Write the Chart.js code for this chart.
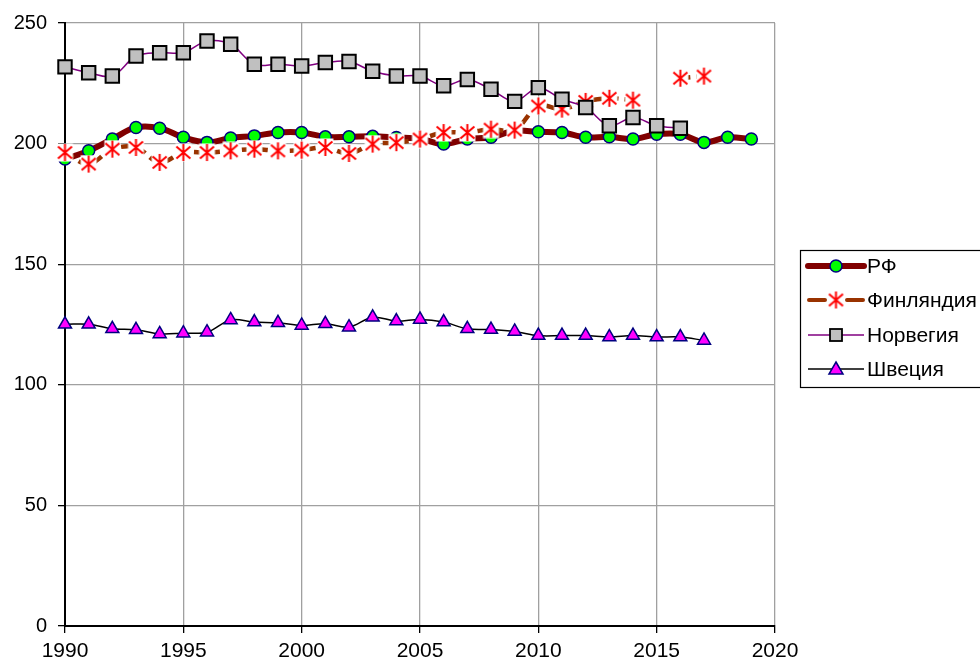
<!DOCTYPE html>
<html>
<head>
<meta charset="utf-8">
<script src="https://cdn.jsdelivr.net/npm/chart.js@4/dist/chart.umd.min.js"></script>
<style>
  html, body { margin: 0; padding: 0; background: #ffffff; overflow: hidden; }
  #wrap { position: relative; width: 980px; height: 663px; }
</style>
</head>
<body>
<div id="wrap"><canvas id="c"></canvas></div>
<script>
// ---- data ----
const years = [1990,1991,1992,1993,1994,1995,1996,1997,1998,1999,2000,2001,2002,2003,2004,2005,2006,2007,2008,2009,2010,2011,2012,2013,2014,2015,2016,2017,2018,2019];
const seriesNames = ['РФ', 'Финляндия', 'Норвегия', 'Швеция'];
const rf =      [193.6,197,201.9,206.7,206.4,202.6,200.5,202.3,203.2,204.6,204.6,202.8,202.8,203,202.5,202,199.8,201.9,202.6,205.3,204.9,204.6,202.6,202.8,201.9,203.9,203.9,200.5,202.6,201.9];
const finland = [196.3,191.5,197.7,198.4,192.2,196.3,196.3,197,197.7,197,197.3,198.4,195.9,199.8,200.4,201.9,204.6,204.6,206,205.6,215.6,214.3,217.5,218.8,218,null,227.1,228,null,null];
const norway =  [231.8,229.4,228,236.3,237.7,237.7,242.5,241.2,232.9,232.9,232.2,233.6,234,230,228,228,224,226.6,222.5,217.5,223.2,218.4,215,207.4,210.8,207.4,206.4,null,null,null];
const sweden =  [125.1,125.1,123.2,122.8,121.1,121.4,121.8,126.9,126,125.7,124.6,125.3,123.9,128,126.4,127.1,126,123.2,122.9,122.1,120.4,120.4,120.4,119.8,120.4,119.8,119.8,118.4,null,null];
const xTicks = [1990,1995,2000,2005,2010,2015,2020];
const yTicks = [0,50,100,150,200,250];

function pts(arr) { return years.map((y, i) => ({ x: y, y: arr[i] })); }

// custom asterisk marker (Excel "star") with white background
function makeStar() {
  const c = document.createElement('canvas');
  c.width = 19; c.height = 19;
  const g = c.getContext('2d');
  g.fillStyle = '#ffffff';
  g.fillRect(1.5, 0.5, 16, 18);
  g.strokeStyle = '#ff0000';
  g.lineWidth = 2;
  g.beginPath();
  g.moveTo(2.5, 3.5); g.lineTo(16.5, 15.5);
  g.moveTo(16.5, 3.5); g.lineTo(2.5, 15.5);
  g.moveTo(9.5, 1); g.lineTo(9.5, 18);
  g.stroke();
  return c;
}
const starImg = makeStar();

const FONT = "'Liberation Sans', Arial, sans-serif";

const legendPlugin = {
  id: 'excelLegend',
  afterDraw(chart) {
    const ctx = chart.ctx;
    ctx.save();
    ctx.strokeStyle = '#000';
    ctx.lineWidth = 1.2;
    ctx.strokeRect(800.5, 250.5, 240, 137);
    const rows = [266, 300, 335, 369];
    const x0 = 808, x1 = 864, xm = 836;
    ctx.lineCap = 'round';
    // RF
    ctx.strokeStyle = '#800000'; ctx.lineWidth = 6;
    ctx.beginPath(); ctx.moveTo(x0, rows[0]); ctx.lineTo(x1, rows[0]); ctx.stroke();
    ctx.fillStyle = '#00ff00'; ctx.strokeStyle = '#000080'; ctx.lineWidth = 1.5;
    ctx.beginPath(); ctx.arc(xm, rows[0], 6, 0, Math.PI * 2); ctx.fill(); ctx.stroke();
    // Finland
    ctx.strokeStyle = '#993300'; ctx.lineWidth = 4;
    ctx.beginPath(); ctx.moveTo(x0 + 1, rows[1]); ctx.lineTo(xm - 11, rows[1]);
    ctx.moveTo(xm + 11, rows[1]); ctx.lineTo(x1 - 1, rows[1]); ctx.stroke();
    ctx.drawImage(starImg, xm - 9.5, rows[1] - 9.5);
    // Norway
    ctx.lineCap = 'butt';
    ctx.strokeStyle = '#800080'; ctx.lineWidth = 1.5;
    ctx.beginPath(); ctx.moveTo(x0, rows[2]); ctx.lineTo(x1, rows[2]); ctx.stroke();
    ctx.fillStyle = '#c0c0c0'; ctx.strokeStyle = '#000'; ctx.lineWidth = 1.8;
    ctx.fillRect(xm - 6, rows[2] - 6, 12, 12); ctx.strokeRect(xm - 6, rows[2] - 6, 12, 12);
    // Sweden
    ctx.strokeStyle = '#000'; ctx.lineWidth = 1.5;
    ctx.beginPath(); ctx.moveTo(x0, rows[3]); ctx.lineTo(x1, rows[3]); ctx.stroke();
    ctx.fillStyle = '#ff00ff'; ctx.strokeStyle = '#000080'; ctx.lineWidth = 1.5;
    ctx.beginPath(); ctx.moveTo(xm, rows[3] - 7); ctx.lineTo(xm + 7, rows[3] + 5); ctx.lineTo(xm - 7, rows[3] + 5); ctx.closePath();
    ctx.fill(); ctx.stroke();
    // labels
    ctx.fillStyle = '#000';
    ctx.font = '21px ' + FONT;
    ctx.textBaseline = 'middle';
    ctx.textAlign = 'left';
    seriesNames.forEach((n, i) => ctx.fillText(n, 867, rows[i] + 1));
    ctx.restore();
  }
};

new Chart(document.getElementById('c'), {
  type: 'line',
  data: {
    datasets: [
      {
        label: seriesNames[0], data: pts(rf), order: 4, clip: false,
        borderColor: '#800000', borderWidth: 6, tension: 0.35,
        pointStyle: 'circle', pointRadius: 6, pointBackgroundColor: '#00ff00',
        pointBorderColor: '#000080', pointBorderWidth: 1.5, spanGaps: false
      },
      {
        label: seriesNames[1], data: pts(finland), order: 3, clip: false,
        borderColor: '#993300', borderWidth: 4.5, borderDash: [10, 6], tension: 0.35,
        pointStyle: starImg, pointRadius: 9, spanGaps: false
      },
      {
        label: seriesNames[2], data: pts(norway), order: 2, clip: false,
        borderColor: '#800080', borderWidth: 1.5, tension: 0.35,
        pointStyle: 'rect', pointRadius: 9.5, pointBackgroundColor: '#c0c0c0',
        pointBorderColor: '#000000', pointBorderWidth: 2, spanGaps: false
      },
      {
        label: seriesNames[3], data: pts(sweden), order: 1, clip: false,
        borderColor: '#000000', borderWidth: 1.5, tension: 0.35,
        pointStyle: 'triangle', pointRadius: 7.5, pointBackgroundColor: '#ff00ff',
        pointBorderColor: '#000080', pointBorderWidth: 1.5, spanGaps: false
      }
    ]
  },
  options: {
    responsive: true,
    maintainAspectRatio: false,
    animation: false,
    events: [],
    layout: { padding: { top: 22, right: 205, left: 0, bottom: 0 } },
    plugins: { legend: { display: false }, tooltip: { enabled: false } },
    scales: {
      x: {
        type: 'linear', min: 1990, max: 2020,
        afterBuildTicks: s => { s.ticks = xTicks.map(v => ({ value: v })); },
        afterFit: s => { s.height = 37; },
        ticks: { color: '#000', font: { family: FONT, size: 21 }, padding: 6, maxRotation: 0, callback: v => String(v) },
        grid: { color: '#a0a0a0', lineWidth: 1.3, tickLength: 7, tickColor: '#000' },
        border: { color: '#000', width: 2 }
      },
      y: {
        min: 0, max: 250,
        afterBuildTicks: s => { s.ticks = yTicks.map(v => ({ value: v })); },
        afterFit: s => { s.width = 65; },
        ticks: { color: '#000', font: { family: FONT, size: 20 }, padding: 11, callback: v => String(v) },
        grid: { color: '#a0a0a0', lineWidth: 1.3, tickLength: 7, tickColor: '#000' },
        border: { color: '#000', width: 2 }
      }
    }
  },
  plugins: [legendPlugin]
});
</script>
</body>
</html>
